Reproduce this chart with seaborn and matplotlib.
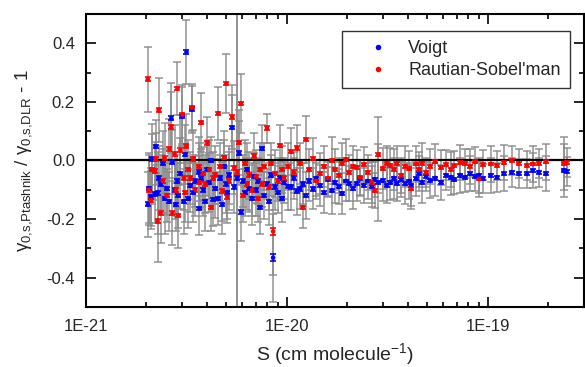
import numpy as np
import pandas as pd
import matplotlib
matplotlib.use("Agg")
import matplotlib.pyplot as plt
import seaborn as sns
from matplotlib.ticker import LogLocator, MultipleLocator, FixedLocator, NullFormatter

# ---- data ----
line_intensity = [
    2.03e-21, 2.05e-21, 2.10e-21, 2.12e-21, 2.20e-21, 2.22e-21, 2.27e-21, 2.30e-21, 2.35e-21, 2.41e-21,
    2.46e-21, 2.52e-21, 2.60e-21, 2.66e-21, 2.69e-21, 2.76e-21, 2.79e-21, 2.85e-21, 2.88e-21, 2.95e-21,
    3.02e-21, 3.06e-21, 3.12e-21, 3.16e-21, 3.23e-21, 3.31e-21, 3.35e-21, 3.42e-21, 3.50e-21, 3.63e-21,
    3.67e-21, 3.75e-21, 3.84e-21, 3.93e-21, 4.02e-21, 4.11e-21, 4.21e-21, 4.30e-21,
    4.40e-21, 4.55e-21, 4.66e-21, 4.77e-21, 4.88e-21, 4.99e-21, 5.05e-21, 5.16e-21, 5.34e-21, 5.47e-21,
    5.66e-21, 5.78e-21, 5.91e-21, 6.06e-21, 6.20e-21, 6.34e-21, 6.49e-21, 6.71e-21, 6.86e-21, 7.02e-21,
    7.18e-21, 7.35e-21, 7.52e-21, 7.69e-21, 7.96e-21, 8.15e-21, 8.34e-21, 8.53e-21, 8.72e-21, 9.03e-21,
    9.24e-21, 9.45e-21, 9.67e-21, 1.01e-20,
    1.05e-20, 1.08e-20, 1.12e-20, 1.16e-20, 1.20e-20, 1.24e-20, 1.29e-20, 1.35e-20, 1.40e-20, 1.46e-20,
    1.53e-20, 1.60e-20, 1.67e-20, 1.73e-20, 1.81e-20, 1.88e-20, 1.96e-20, 2.04e-20, 2.13e-20, 2.22e-20,
    2.30e-20, 2.41e-20, 2.52e-20, 2.64e-20, 2.73e-20, 2.85e-20, 2.99e-20, 3.13e-20,
    3.27e-20, 3.40e-20, 3.52e-20, 3.71e-20, 3.88e-20, 4.06e-20, 4.16e-20, 4.40e-20, 4.55e-20, 4.71e-20,
    4.93e-20, 5.16e-20, 5.47e-20, 5.85e-20, 6.20e-20, 6.56e-20, 6.80e-20, 7.27e-20, 7.70e-20, 8.15e-20,
    8.63e-20, 9.03e-20, 9.45e-20,
    1.03e-19, 1.11e-19, 1.20e-19, 1.31e-19, 1.42e-19, 1.56e-19, 1.67e-19, 1.79e-19, 1.94e-19, 2.38e-19,
    2.46e-19,
]

voigt_ratio = [
    -0.150, -0.095, -0.125, 0.005, -0.115, 0.048, -0.110, -0.060, -0.080, -0.010,
    -0.130, -0.095, -0.140, 0.144, -0.005, -0.100, -0.150, -0.070, -0.120, -0.045,
    0.150, -0.140, 0.020, 0.370, -0.130, -0.085, 0.175, -0.110, -0.070, -0.040,
    -0.164, -0.060, -0.100, -0.140, -0.030, -0.075, 0.000, -0.133,
    -0.095, -0.130, -0.060, -0.150, -0.020, -0.080, -0.110, -0.050, 0.112, -0.090,
    -0.060, 0.025, -0.175, -0.070, -0.110, -0.030, -0.095, -0.130, -0.055, -0.100,
    -0.070, -0.160, 0.041, -0.120, -0.080, -0.140, -0.050, -0.332, -0.090, -0.110,
    -0.060, -0.130, -0.075, -0.088,
    -0.090, -0.060, -0.105, -0.097, -0.080, -0.120, -0.070, -0.097, -0.060, -0.085,
    -0.110, -0.065, -0.103, -0.074, -0.090, -0.112, -0.070, -0.080, -0.095, -0.078,
    -0.060, -0.085, -0.070, -0.090, -0.065, -0.075, -0.068, -0.085,
    -0.075, -0.060, -0.078, -0.065, -0.080, -0.070, -0.085, -0.062, -0.045, -0.074,
    -0.055, -0.068, -0.060, -0.074, -0.050, -0.057, -0.065, -0.050, -0.057, -0.045,
    -0.055, -0.050, -0.062,
    -0.050, -0.057, -0.045, -0.040, -0.045, -0.045, -0.035, -0.040, -0.045, -0.034,
    -0.038,
]

rautian_ratio = [
    0.277, -0.100, -0.135, -0.030, -0.036, 0.005, -0.207, 0.172, -0.180, -0.070,
    0.008, -0.120, 0.040, 0.113, -0.180, 0.022, -0.100, 0.246, -0.188, 0.035,
    0.157, -0.060, -0.110, 0.050, -0.030, -0.060, 0.181, 0.005, -0.100, -0.020,
    -0.075, 0.130, -0.045, -0.080, 0.060, -0.030, -0.160, -0.060,
    -0.050, 0.161, -0.020, -0.105, 0.010, 0.262, -0.125, -0.070, 0.148, -0.025,
    -0.040, 0.062, 0.194, -0.120, -0.010, -0.080, -0.050, -0.100, 0.015, -0.055,
    -0.130, -0.030, -0.080, -0.020, 0.110, -0.090, -0.010, -0.242, -0.045, -0.070,
    0.051, -0.030, -0.060, -0.020,
    0.030, -0.040, 0.042, -0.010, -0.160, 0.072, -0.030, 0.006, -0.070, -0.045,
    -0.020, -0.060, 0.000, -0.030, -0.050, -0.010, 0.004, -0.040, -0.020, -0.023,
    -0.057, -0.015, -0.040, -0.074, -0.103, 0.020, -0.028, -0.010,
    -0.017, -0.030, -0.010, -0.050, -0.020, -0.028, -0.097, -0.012, -0.030, -0.010,
    -0.040, -0.020, -0.005, -0.023, -0.015, -0.030, -0.017, -0.008, -0.010, -0.020,
    -0.005, -0.063, -0.015,
    -0.012, -0.017, -0.008, 0.000, -0.010, -0.017, -0.012, -0.010, -0.005, -0.010,
    -0.008,
]

# uncertainty of the reference (DLR) value: grey bars
ref_uncertainty = [
    0.11, 0.12, 0.10, 0.12, 0.10, 0.09, 0.14, 0.11, 0.10, 0.11,
    0.12, 0.09, 0.10, 0.12, 0.11, 0.10, 0.09, 0.09, 0.11, 0.12,
    0.10, 0.11, 0.10, 0.11, 0.10, 0.09, 0.08, 0.10, 0.09, 0.10,
    0.09, 0.10, 0.09, 0.10, 0.09, 0.10, 0.08, 0.09,
    0.10, 0.09, 0.08, 0.10, 0.09, 0.10, 0.09, 0.10, 0.11, 0.09,
    0.60, 0.11, 0.10, 0.09, 0.08, 0.09, 0.08, 0.09, 0.08, 0.09,
    0.08, 0.09, 0.08, 0.08, 0.05, 0.08, 0.07, 0.15, 0.08, 0.07,
    0.07, 0.08, 0.07, 0.08,
    0.08, 0.07, 0.08, 0.07, 0.07, 0.08, 0.07, 0.07, 0.06, 0.07,
    0.07, 0.06, 0.08, 0.07, 0.06, 0.07, 0.07, 0.06, 0.07, 0.06,
    0.06, 0.06, 0.06, 0.07, 0.06, 0.13, 0.07, 0.06,
    0.06, 0.07, 0.06, 0.06, 0.07, 0.06, 0.07, 0.06, 0.06, 0.07,
    0.05, 0.06, 0.06, 0.06, 0.05, 0.06, 0.05, 0.06, 0.05, 0.06,
    0.05, 0.06, 0.05,
    0.06, 0.05, 0.06, 0.05, 0.05, 0.05, 0.06, 0.05, 0.06, 0.09,
    0.05,
]

# fit uncertainty of the ratio: small coloured bars
fit_uncertainty = [
    0.007, 0.006, 0.006, 0.006, 0.006, 0.006, 0.007, 0.006, 0.006, 0.006,
    0.006, 0.006, 0.006, 0.007, 0.006, 0.006, 0.006, 0.006, 0.006, 0.006,
    0.006, 0.006, 0.006, 0.006, 0.006, 0.006, 0.006, 0.006, 0.006, 0.006,
    0.006, 0.006, 0.006, 0.006, 0.006, 0.006, 0.006, 0.006,
    0.006, 0.006, 0.006, 0.006, 0.006, 0.006, 0.006, 0.006, 0.006, 0.006,
    0.006, 0.006, 0.006, 0.006, 0.006, 0.006, 0.006, 0.006, 0.006, 0.006,
    0.006, 0.006, 0.006, 0.006, 0.006, 0.006, 0.006, 0.012, 0.006, 0.006,
    0.006, 0.006, 0.006, 0.006,
    0.006, 0.006, 0.006, 0.006, 0.006, 0.006, 0.006, 0.006, 0.005, 0.006,
    0.005, 0.005, 0.006, 0.005, 0.005, 0.006, 0.005, 0.005, 0.005, 0.005,
    0.005, 0.005, 0.005, 0.005, 0.005, 0.005, 0.005, 0.005,
    0.005, 0.005, 0.005, 0.005, 0.005, 0.005, 0.005, 0.005, 0.005, 0.005,
    0.005, 0.005, 0.005, 0.005, 0.005, 0.005, 0.005, 0.005, 0.005, 0.005,
    0.005, 0.005, 0.005,
    0.005, 0.005, 0.005, 0.005, 0.005, 0.005, 0.005, 0.005, 0.005, 0.005,
    0.005,
]

model_names = ["Voigt", "Rautian-Sobel'man"]
model_colors = ["#0000ff", "#ff0000"]

x_ticks = [1e-21, 1e-20, 1e-19]
x_ticklabels = ["1E-21", "1E-20", "1E-19"]
y_ticks = [-0.4, -0.2, 0.0, 0.2, 0.4]
y_ticklabels = ["-0.4", "-0.2", "0.0", "0.2", "0.4"]

# ---- style ----
sns.set_style("ticks")
plt.rcParams["font.family"] = ["Liberation Sans", "DejaVu Sans"]
plt.rcParams["mathtext.fontset"] = "custom"
plt.rcParams["mathtext.rm"] = "Liberation Sans"
plt.rcParams["mathtext.it"] = "Liberation Sans:italic"
plt.rcParams["mathtext.bf"] = "Liberation Sans:bold"

df = pd.concat([
    pd.DataFrame({"S": line_intensity, "ratio": voigt_ratio, "ref_err": ref_uncertainty,
                  "fit_err": fit_uncertainty, "model": model_names[0]}),
    pd.DataFrame({"S": line_intensity, "ratio": rautian_ratio, "ref_err": ref_uncertainty,
                  "fit_err": fit_uncertainty, "model": model_names[1]}),
], ignore_index=True)

fig = plt.figure(figsize=(5.85, 3.67), dpi=100)
ax = fig.add_axes([0.147, 0.1635, 0.851, 0.7985])

# grey reference-uncertainty bars
for name in model_names:
    sub = df[df["model"] == name]
    ax.errorbar(sub["S"], sub["ratio"], yerr=sub["ref_err"], fmt="none",
                ecolor="#8a8a8a", elinewidth=1.2, capsize=2.6, capthick=1.2,
                alpha=0.85, zorder=1)

ax.axhline(0, color="black", lw=1.6, zorder=2)

# coloured fit-uncertainty bars
for name, col in zip(model_names, model_colors):
    sub = df[df["model"] == name]
    ax.errorbar(sub["S"], sub["ratio"], yerr=sub["fit_err"], fmt="none",
                ecolor=col, elinewidth=1.0, capsize=2.4, capthick=1.2, zorder=3)

sns.scatterplot(data=df, x="S", y="ratio", hue="model", hue_order=model_names,
                palette=dict(zip(model_names, model_colors)), s=11, linewidth=0,
                ax=ax, zorder=4)

ax.set_xscale("log")
ax.set_xlim(1e-21, 3e-19)
ax.set_ylim(-0.5, 0.5)
ax.xaxis.set_major_locator(FixedLocator(x_ticks))
ax.set_xticklabels(x_ticklabels)
ax.xaxis.set_minor_locator(LogLocator(base=10, subs=np.arange(2, 10)))
ax.xaxis.set_minor_formatter(NullFormatter())
ax.yaxis.set_major_locator(FixedLocator(y_ticks))
ax.set_yticklabels(y_ticklabels)
ax.yaxis.set_minor_locator(MultipleLocator(0.1))

ax.tick_params(which="both", direction="in", top=True, right=True, width=1.2,
               labelsize=12, color="black")
ax.tick_params(axis="y", which="both", pad=8)
ax.tick_params(axis="x", which="both", pad=9)
ax.tick_params(which="major", length=7)
ax.tick_params(which="minor", length=3.5)
for sp in ax.spines.values():
    sp.set_visible(True)
    sp.set_linewidth(1.5)
    sp.set_color("black")

ax.set_xlabel("S (cm molecule$^{-1}$)", fontsize=14, labelpad=5)
ax.set_ylabel(r"$\mathrm{\gamma}_{\mathrm{0{,}s{,}Ptashnik}}$ / "
              r"$\mathrm{\gamma}_{\mathrm{0{,}s{,}DLR}}$ - 1",
              fontsize=13.5, labelpad=9)

leg = ax.legend(loc="upper right", bbox_to_anchor=(0.972, 0.942), borderaxespad=0,
                frameon=True, fancybox=False, edgecolor="black", fontsize=13,
                markerscale=1.2, handlelength=3.0, handletextpad=0.2,
                borderpad=0.5, labelspacing=0.3, title=None)
leg.get_frame().set_linewidth(1.0)

fig.savefig("out.png", dpi=100)
